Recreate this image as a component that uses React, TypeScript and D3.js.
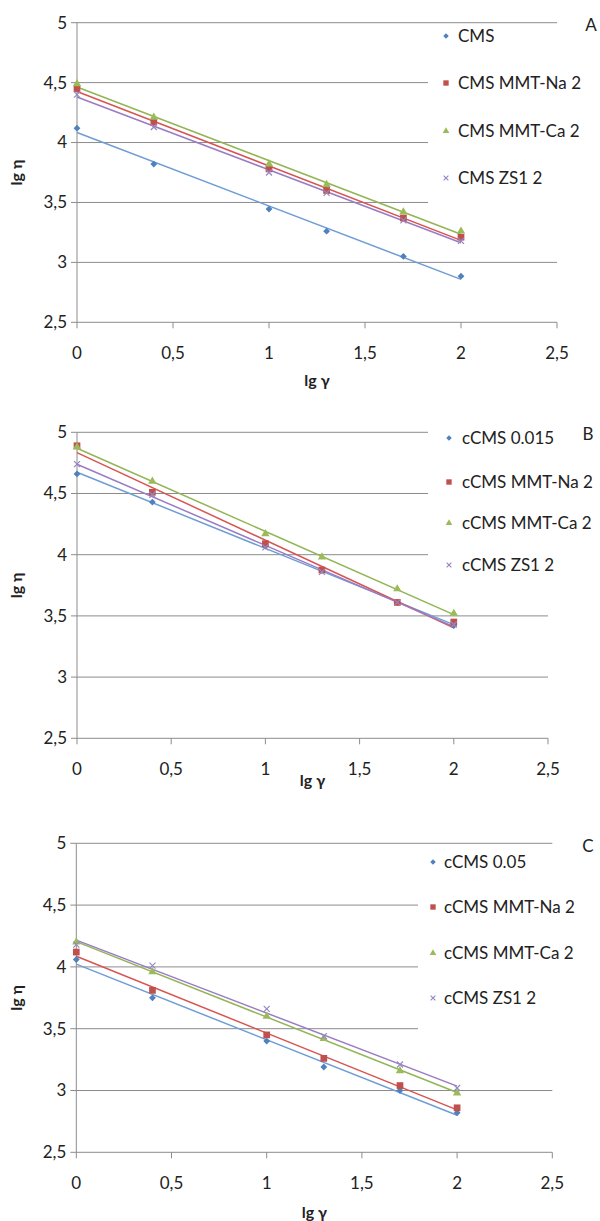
import React from 'react'
import { scaleLinear, line, symbol, symbolSquare, symbolTriangle, mean, sum } from 'd3'

// shared x values (lg of shear rate)
const xValues = [0, 0.4, 1, 1.3, 1.7, 2]
const xTicks = [0, 0.5, 1, 1.5, 2, 2.5]
const yTicks = [2.5, 3, 3.5, 4, 4.5, 5]

// panel A
const namesA = ['CMS', 'CMS MMT-Na 2', 'CMS MMT-Ca 2', 'CMS ZS1 2']
const cmsA = [4.12, 3.82, 3.445, 3.26, 3.05, 2.885]
const naA = [4.45, 4.17, 3.78, 3.6, 3.37, 3.21]
const caA = [4.49, 4.21, 3.82, 3.65, 3.42, 3.26]
const zsA = [4.4, 4.13, 3.75, 3.58, 3.35, 3.18]

// panel B
const namesB = ['cCMS 0.015', 'cCMS MMT-Na 2', 'cCMS MMT-Ca 2', 'cCMS ZS1 2']
const cmsB = [4.66, 4.43, 4.07, 3.87, 3.61, 3.42]
const naB = [4.89, 4.51, 4.09, 3.875, 3.61, 3.45]
const caB = [4.88, 4.6, 4.17, 3.98, 3.72, 3.52]
const zsB = [4.74, 4.49, 4.06, 3.86, 3.61, 3.43]

// panel C
const namesC = ['cCMS 0.05', 'cCMS MMT-Na 2', 'cCMS MMT-Ca 2', 'cCMS ZS1 2']
const cmsC = [4.06, 3.75, 3.4, 3.19, 3.0, 2.82]
const naC = [4.12, 3.81, 3.45, 3.26, 3.04, 2.86]
const caC = [4.2, 3.96, 3.6, 3.42, 3.16, 2.98]
const zsC = [4.18, 4.01, 3.66, 3.44, 3.21, 3.02]

const markerColors = ['#4F81BD', '#C0504D', '#9BBB59', '#9787C4']
const lineColors = ['#6E9DD6', '#D65552', '#92B556', '#9A7CC4']
const font = 'Lato, "Open Sans", sans-serif'
const grid = '#8C8C8C'

// layout for each panel (pixels)
const panels = [
  { letter: 'A', names: namesA, series: [cmsA, naA, caA, zsA], top: 22.7, bottom: 322.3, left: 77, right: 557,
    legend: { x: 428, y: 28, h: 184, mx: 446, tx: 458, rows: [36, 83, 131, 178] }, letterPos: [591, 31], titleY: 386 },
  { letter: 'B', names: namesB, series: [cmsB, naB, caB, zsB], top: 432.3, bottom: 738.3, left: 77, right: 548,
    legend: { x: 428, y: 424, h: 170, mx: 449, tx: 462, rows: [438, 482, 523, 565] }, letterPos: [588, 440], titleY: 786 },
  { letter: 'C', names: namesC, series: [cmsC, naC, caC, zsC], top: 843.3, bottom: 1152.3, left: 76.3, right: 552.3,
    legend: { x: 418, y: 850, h: 190, mx: 433, tx: 444, rows: [862, 907, 953, 998] }, letterPos: [588, 852], titleY: 1218 },
]

// excel-style linear trendline
const fit = (ys: number[]) => {
  const mx = mean(xValues) as number
  const my = mean(ys) as number
  const slope = (sum(xValues, (x, i) => (x - mx) * (ys[i] - my)) as number) /
    (sum(xValues, x => (x - mx) ** 2) as number)
  return { slope, icpt: my - slope * mx }
}

const fmt = (d: number) => String(d).replace('.', ',')

const Marker = ({ k, x, y, small }: { k: number; x: number; y: number; small?: boolean }) => {
  const s = small ? 0.8 : 1
  if (k === 3) {
    const r = 3 * s
    return (
      <g stroke={markerColors[3]} strokeWidth={1.2}>
        <line x1={x - r} y1={y - r} x2={x + r} y2={y + r} />
        <line x1={x - r} y1={y + r} x2={x + r} y2={y - r} />
      </g>
    )
  }
  if (k === 0) {
    const r = 3.4 * s
    return <path d={`M${x},${y - r}L${x + r},${y}L${x},${y + r}L${x - r},${y}Z`} fill={markerColors[0]} />
  }
  const types = [symbolSquare, symbolSquare, symbolTriangle]
  const sizes = [0, 45, 30]
  const d = symbol(types[k], sizes[k] * s * s)() as string
  return <path d={d} transform={`translate(${x},${y})`} fill={markerColors[k]} />
}

const Panel = ({ p }: { p: typeof panels[number] }) => {
  const x = scaleLinear().domain([0, 2.5]).range([p.left, p.right])
  const y = scaleLinear().domain([2.5, 5]).range([p.bottom, p.top])
  const lg = p.legend
  return (
    <g fontFamily={font}>
      {yTicks.map(t => (
        <g key={t}>
          {t > 2.5 && <line x1={p.left} x2={p.right} y1={y(t)} y2={y(t)} stroke={grid} strokeWidth={1} />}
          <line x1={p.left - 6} x2={p.left} y1={y(t)} y2={y(t)} stroke={grid} />
          <text x={p.left - 10} y={y(t)} dy="0.35em" textAnchor="end" fontSize={17} fill="#222">{fmt(t)}</text>
        </g>
      ))}
      <line x1={p.left} x2={p.left} y1={p.top} y2={p.bottom} stroke={grid} />
      <line x1={p.left} x2={p.right} y1={p.bottom} y2={p.bottom} stroke={grid} />
      {xTicks.map(t => (
        <g key={t}>
          <line x1={x(t)} x2={x(t)} y1={p.bottom} y2={p.bottom + 6} stroke={grid} />
          <text x={x(t)} y={p.bottom + 31} dy="0.35em" textAnchor="middle" fontSize={17} fill="#222">{fmt(t)}</text>
        </g>
      ))}
      {/* legend box hides the gridlines behind it */}
      <rect x={lg.x} y={lg.y} width={600 - lg.x} height={lg.h} fill="#fff" />
      {p.series.map((ys, k) => {
        const { slope, icpt } = fit(ys)
        const trend = line<number>().x(d => x(d)).y(d => y(icpt + slope * d))
        return <path key={k} d={trend([0, 2]) as string} fill="none" stroke={lineColors[k]} strokeWidth={1.5} />
      })}
      {p.series.map((ys, k) => (
        <g key={k}>
          {ys.map((v, i) => <Marker key={i} k={k} x={x(xValues[i])} y={y(v)} />)}
        </g>
      ))}
      {p.names.map((n, k) => (
        <g key={n}>
          <Marker k={k} x={lg.mx} y={lg.rows[k]} small />
          <text x={lg.tx} y={lg.rows[k]} dy="0.35em" fontSize={17} fill="#222">{n}</text>
        </g>
      ))}
      <text x={p.letterPos[0]} y={p.letterPos[1]} textAnchor="middle" fontSize={17} fill="#222">{p.letter}</text>
      <text transform={`translate(22,${(p.top + p.bottom) / 2}) rotate(-90)`} textAnchor="middle" fontSize={16}
        fontWeight="bold" fill="#222">lg η</text>
      <text x={(p.left + p.right) / 2} y={p.titleY} textAnchor="middle" fontSize={16} fontWeight="bold" fill="#222">lg γ</text>
    </g>
  )
}

export default function App() {
  return (
    <svg width={600} height={1221} style={{ position: 'absolute', left: 0, top: 0, background: '#fff' }}>
      <rect width={600} height={1221} fill="#fff" />
      {panels.map(p => <Panel key={p.letter} p={p} />)}
    </svg>
  )
}
